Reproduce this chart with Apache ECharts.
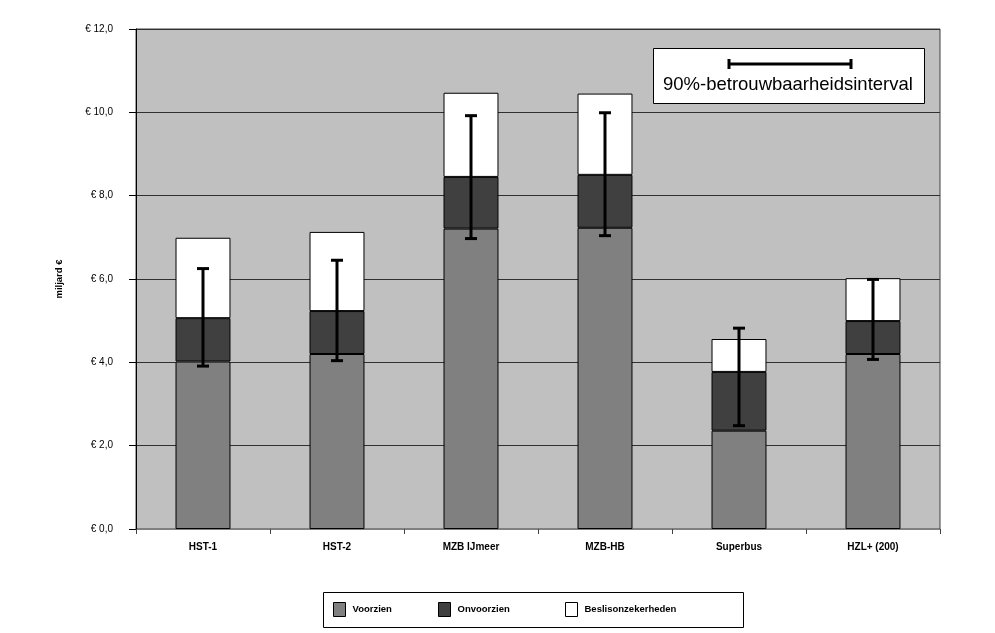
<!DOCTYPE html>
<html><head><meta charset="utf-8">
<script src="https://cdn.jsdelivr.net/npm/echarts@6/dist/echarts.min.js"></script>
<style>html,body{margin:0;padding:0;background:#fff}#c{width:995px;height:633px}</style>
</head><body><div id="c"></div>
<script>
const categories = ['HST-1','HST-2','MZB IJmeer','MZB-HB','Superbus','HZL+ (200)'];
const voorzien = [4.02, 4.20, 7.21, 7.23, 2.36, 4.20];
const onvoorzien = [1.04, 1.03, 1.24, 1.27, 1.41, 0.79];
const beslis = [1.93, 1.90, 2.02, 1.95, 0.79, 1.03];
const errLow = [3.91, 4.04, 6.97, 7.04, 2.48, 4.07];
const errHigh = [6.25, 6.45, 9.92, 9.99, 4.82, 5.99];
const seriesNames = ['Voorzien','Onvoorzien','Beslisonzekerheden'];
const yTicks = [0, 2, 4, 6, 8, 10, 12];

const chart = echarts.init(document.getElementById('c'), null, {renderer:'canvas'});
const font = 'Arial, "Liberation Sans", Helvetica, sans-serif';
const barStyle = (c) => ({color:c, borderColor:'#000', borderWidth:1});
const legendLeft = [333, 438, 565];
const legends = seriesNames.map((n,i)=>({
  top:602, left:legendLeft[i], padding:0, itemWidth:12, itemHeight:14, itemGap:0,
  textStyle:{fontSize:9.5, fontWeight:'bold', color:'#000', fontFamily:font, padding:[0,0,0,2]},
  data:[{name:n, icon:'rect', itemStyle:{borderColor:'#000', borderWidth:1}}]
}));
chart.setOption({
  animation:false,
  backgroundColor:'#fff',
  textStyle:{fontFamily:font},
  grid:{left:136, right:55, top:29, bottom:104, show:true, backgroundColor:'#c0c0c0', borderColor:'#404040', borderWidth:1},
  legend: legends,
  xAxis:{
    type:'category', data:categories,
    axisLine:{lineStyle:{color:'#808080'}},
    axisTick:{show:true, length:5, lineStyle:{color:'#404040'}},
    axisLabel:{fontSize:10, fontWeight:'bold', color:'#000', margin:13}
  },
  yAxis:{
    type:'value', min:0, max:12, interval:2,
    name:'miljard €', nameLocation:'middle', nameRotate:90, nameGap:72,
    nameTextStyle:{fontSize:9.5, fontWeight:'bold', color:'#000'},
    axisLine:{show:true, lineStyle:{color:'#000'}},
    axisTick:{show:true, length:7, lineStyle:{color:'#000'}},
    axisLabel:{fontSize:10, color:'#000', margin:23,
      formatter:(v)=> yTicks.includes(v) ? '€ ' + v.toFixed(1).replace('.',',') : ''},
    splitLine:{show:true, lineStyle:{color:'#303030', width:1}}
  },
  series:[
    {name:seriesNames[0], type:'bar', stack:'t', data:voorzien, barWidth:'41%', itemStyle:barStyle('#808080')},
    {name:seriesNames[1], type:'bar', stack:'t', data:onvoorzien, itemStyle:barStyle('#404040')},
    {name:seriesNames[2], type:'bar', stack:'t', data:beslis, itemStyle:barStyle('#ffffff')},
    {name:'interval', type:'custom', z:10,
      data: categories.map((c,i)=>[i, errLow[i], errHigh[i]]),
      encode:{x:0, y:[1,2]},
      renderItem:(params, api)=>{
        const lo = api.coord([api.value(0), api.value(1)]);
        const hi = api.coord([api.value(0), api.value(2)]);
        const hw = 6;
        const st = {stroke:'#000', lineWidth:3};
        return {type:'group', children:[
          {type:'line', shape:{x1:lo[0], y1:lo[1], x2:hi[0], y2:hi[1]}, style:st},
          {type:'line', shape:{x1:lo[0]-hw, y1:lo[1], x2:lo[0]+hw, y2:lo[1]}, style:st},
          {type:'line', shape:{x1:hi[0]-hw, y1:hi[1], x2:hi[0]+hw, y2:hi[1]}, style:st}
        ]};
      }
    }
  ],
  graphic:[
    {type:'rect', left:323, top:592, shape:{width:420, height:35}, style:{fill:'#fff', stroke:'#000', lineWidth:1}, z:-1, silent:true},
    {type:'rect', left:653, top:48, shape:{width:271, height:55}, style:{fill:'#fff', stroke:'#000', lineWidth:1}, z:20},
    {type:'line', shape:{x1:729, y1:64, x2:851, y2:64}, style:{stroke:'#000', lineWidth:3}, z:21},
    {type:'line', shape:{x1:729, y1:59, x2:729, y2:69}, style:{stroke:'#000', lineWidth:3}, z:21},
    {type:'line', shape:{x1:851, y1:59, x2:851, y2:69}, style:{stroke:'#000', lineWidth:3}, z:21},
    {type:'text', left:663, top:75, style:{text:'90%-betrouwbaarheidsinterval', fontSize:18.5, fill:'#000', fontFamily:font}, z:21}
  ]
});
</script></body></html>
